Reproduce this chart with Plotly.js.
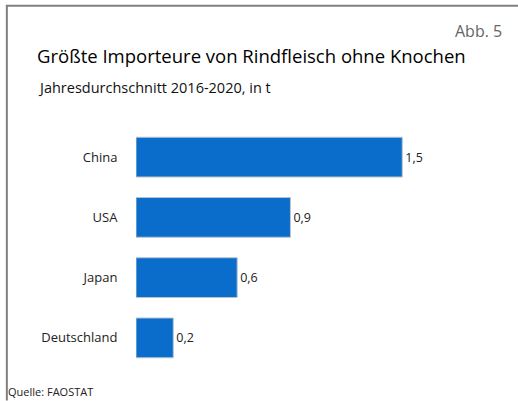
<!DOCTYPE html>
<html>
<head>
<meta charset="utf-8">
<script src="https://cdn.plot.ly/plotly-3.0.1.min.js"></script>
<style>html,body{margin:0;padding:0;background:#fff;}#chart{width:518px;height:401px;}</style>
</head>
<body>
<div id="chart"></div>
<script>
const countries = ['China', 'USA', 'Japan', 'Deutschland'];
const values = [1.5, 0.87, 0.57, 0.21];
const valueLabels = ['1,5', '0,9', '0,6', '0,2'];

const FONT = 'Open Sans, Noto Sans, sans-serif';
const W = 518, H = 401;
const L = 136, R = 27.4, T = 127.3, B = 32.5;
const pw = W - L - R, ph = H - T - B;
const px = x => (x - L) / pw;
const py = y => (H - B - y) / ph;

const trace = {
  type: 'bar',
  orientation: 'h',
  y: countries,
  x: values,
  text: valueLabels,
  textposition: 'outside',
  cliponaxis: false,
  textfont: {family: FONT, size: 12.5, color: '#222'},
  marker: {color: '#0a6ccb', line: {color: '#b8c4d0', width: 1}},
  hoverinfo: 'skip'
};

const layout = {
  width: W, height: H,
  margin: {l: L, r: R, t: T, b: B},
  paper_bgcolor: '#fff', plot_bgcolor: '#fff',
  showlegend: false,
  bargap: 0.34,
  font: {family: FONT, color: '#222'},
  title: {
    text: 'Größte Importeure von Rindfleisch ohne Knochen',
    font: {family: FONT, size: 18.5, color: '#000'},
    xref: 'container', yref: 'container',
    x: 37 / W, xanchor: 'left',
    y: 1 - 57 / H, yanchor: 'middle'
  },
  xaxis: {range: [0, 2.0], visible: false, fixedrange: true},
  yaxis: {
    autorange: 'reversed', showgrid: false, zeroline: false, showline: false,
    ticks: 'outside', ticklen: 15, tickcolor: 'rgba(0,0,0,0)',
    tickfont: {family: FONT, size: 13, color: '#222'}
  },
  annotations: [
    {text: 'Jahresdurchschnitt 2016-2020, in t', xref: 'paper', yref: 'paper',
     x: px(36), y: py(88), xanchor: 'left', yanchor: 'middle', showarrow: false,
     font: {family: FONT, size: 14.5, color: '#111'}},
    {text: 'Abb. 5', xref: 'paper', yref: 'paper',
     x: px(504), y: py(31), xanchor: 'right', yanchor: 'middle', showarrow: false,
     font: {family: FONT, size: 16, color: '#666'}},
    {text: 'Quelle: FAOSTAT', xref: 'paper', yref: 'paper',
     x: px(6), y: py(392), xanchor: 'left', yanchor: 'middle', showarrow: false,
     font: {family: FONT, size: 11, color: '#222'}}
  ],
  shapes: [
    {type: 'line', xref: 'paper', yref: 'paper', x0: px(6), x1: px(518), y0: py(6), y1: py(6),
     line: {color: '#808080', width: 2}},
    {type: 'line', xref: 'paper', yref: 'paper', x0: px(7), x1: px(7), y0: py(6), y1: py(401),
     line: {color: '#808080', width: 2}}
  ]
};

Plotly.newPlot('chart', [trace], layout, {displayModeBar: false, staticPlot: true});
</script>
</body>
</html>
